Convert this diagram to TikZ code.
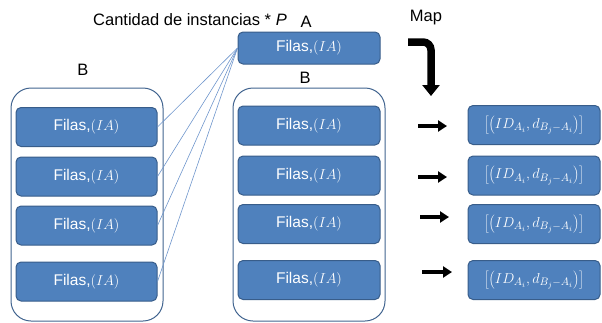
\documentclass[tikz,border=0pt]{standalone}
\usepackage{fontspec}
\setmainfont{Liberation Sans}
\usetikzlibrary{arrows.meta,positioning,calc}
\definecolor{rblue}{HTML}{4F81BD}
\definecolor{rdark}{HTML}{385D8A}
\definecolor{rframe}{HTML}{41648F}
\definecolor{rline}{HTML}{6F96CC}

\begin{document}
\begin{tikzpicture}[
  x=1pt,y=-1pt,
  fila/.style={draw=rdark,line width=1pt,fill=rblue,rounded corners=5pt,text=white,
    font=\fontsize{15.5}{18}\selectfont,inner sep=0pt,minimum height=39pt},
  grupo/.style={draw=rframe,line width=1pt,rounded corners=20pt,minimum width=152pt,minimum height=233pt,inner sep=0pt},
  lbl/.style={font=\fontsize{16.5}{19}\selectfont,inner sep=0pt},
  fan/.style={rline,line width=0.6pt},
  arr/.style={-{Triangle[width=11pt,length=9pt]},line width=3.5pt,black}]
\useasboundingbox (0,0) rectangle (602,322);

% ---------- titles ----------
\node[lbl] (cant) at (190,20) {Cantidad de instancias * \textit{P}};
\node[lbl] (tA) at (306,22) {A};
\node[lbl] (tB1) at (83,70) {B};
\node[lbl] (tB2) at (305,78) {B};
\node[lbl] (map) at (426,18) {Map};

% ---------- the one row of A ----------
\node[fila,minimum width=142pt,minimum height=32pt] (a) at (309,48) {Filas,$(IA)$};

% ---------- left group B ----------
\node[grupo] (g1) at (87,204.5) {};
\node[fila,minimum width=141pt] (l1) at (86.5,127) {Filas,$(IA)$};
\node[fila,minimum width=141pt] (l2) at (86.5,176.5) {Filas,$(IA)$};
\node[fila,minimum width=141pt] (l3) at (86.5,225.5) {Filas,$(IA)$};
\node[fila,minimum width=141pt] (l4) at (86.5,281.5) {Filas,$(IA)$};
% fan from A to every row of the left B
\foreach \n in {l1,l2,l3,l4}
  \draw[fan] (a.west) -- (\n.east);

% ---------- middle group B ----------
\node[grupo] (g2) at (309,204.5) {};
\node[fila,minimum width=142pt] (m1) at (309,125.5) {Filas,$(IA)$};
\node[fila,minimum width=142pt] (m2) at (309,175.5) {Filas,$(IA)$};
\node[fila,minimum width=142pt] (m3) at (309,224) {Filas,$(IA)$};
\node[fila,minimum width=142pt] (m4) at (309,280) {Filas,$(IA)$};

% ---------- map arrow ----------
\coordinate (k0) at (408,42);
\coordinate (k1) at (431,42);
\coordinate (k2) at (431,96);
\draw[line width=7.5pt,rounded corners=8pt,-{Triangle[width=17pt,length=11pt]}] (k0) -- (k1) -- (k2);

% ---------- results ----------
\node[fila,minimum width=132pt] (r1) at (534,125) {$\left[\left(ID_{A_i},d_{B_j-A_i}\right)\right]$};
\node[fila,minimum width=132pt] (r2) at (534,175.5) {$\left[\left(ID_{A_i},d_{B_j-A_i}\right)\right]$};
\node[fila,minimum width=132pt] (r3) at (534,224) {$\left[\left(ID_{A_i},d_{B_j-A_i}\right)\right]$};
\node[fila,minimum width=132pt] (r4) at (534,280) {$\left[\left(ID_{A_i},d_{B_j-A_i}\right)\right]$};
% short arrows in front of each result
\coordinate (s1) at (418,126);
\coordinate (e1) at (447,126);
\coordinate (s2) at (418,177);
\coordinate (e2) at (447,177);
\coordinate (s3) at (420,217);
\coordinate (e3) at (449,217);
\coordinate (s4) at (422,272);
\coordinate (e4) at (452,272);
\foreach \i in {1,...,4}
  \draw[arr] (s\i) -- (e\i);
\end{tikzpicture}
\end{document}
